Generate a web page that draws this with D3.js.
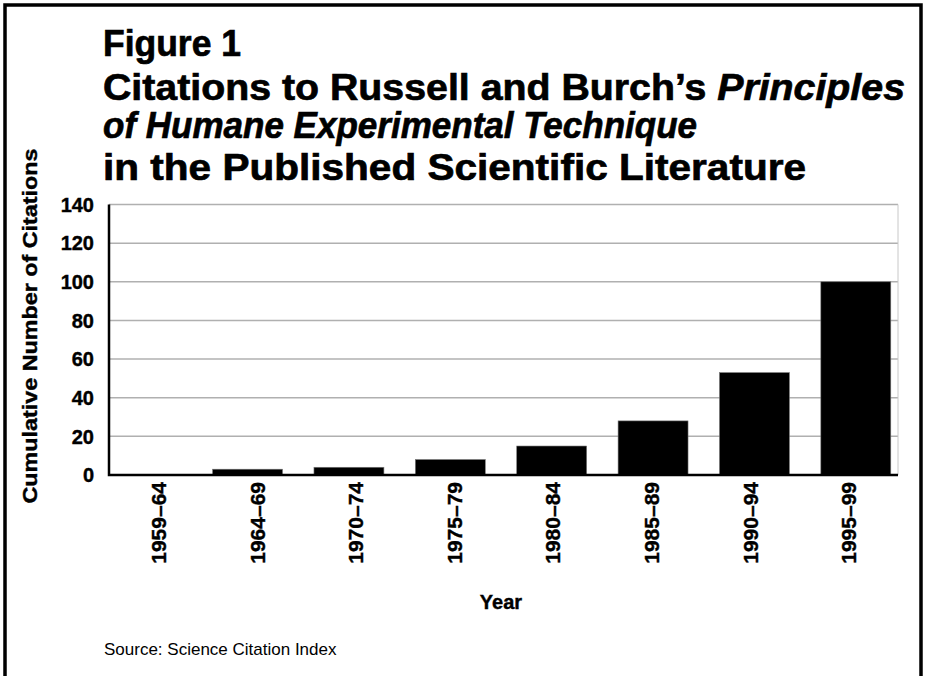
<!DOCTYPE html>
<html>
<head>
<meta charset="utf-8">
<script src="https://cdn.jsdelivr.net/npm/d3@7"></script>
<style>
  body { margin: 0; background: #fff; }
  text { font-family: "Liberation Sans", Arial, Helvetica, sans-serif; }
</style>
</head>
<body>
<div id="chart"></div>
<script>
var periods = ["1959\u201364", "1964\u201369", "1970\u201374", "1975\u201379", "1980\u201384", "1985\u201389", "1990\u201394", "1995\u201399"];
var citations = [0, 3, 4, 8, 15, 28, 53, 100];
var yTicks = [0, 20, 40, 60, 80, 100, 120, 140];
var titleLines = ["Figure 1", "Citations to Russell and Burch\u2019s |Principles", "|of Humane Experimental Technique", "in the Published Scientific Literature"];

var width = 925, height = 676;
var plot = { left: 109, right: 898, top: 204.5, bottom: 475 };

var svg = d3.select("#chart").append("svg")
  .attr("width", width)
  .attr("height", height);

// outer frame
svg.append("rect")
  .attr("x", 5).attr("y", 5)
  .attr("width", 916).attr("height", 700)
  .attr("fill", "none")
  .attr("stroke", "#000")
  .attr("stroke-width", 3.5);

// title, "|" marks where italics start
var titleBase = [56, 100, 138, 180];
var titleLen = [138, 802, 594, 703];
var title = svg.append("g");
titleLines.forEach(function(line, i) {
  var t = title.append("text")
    .attr("x", 103)
    .attr("y", titleBase[i])
    .attr("font-size", 37)
    .attr("font-weight", "bold")
    .attr("fill", "#000")
    .attr("stroke", "#000")
    .attr("stroke-width", 0.7)
    .attr("textLength", titleLen[i])
    .attr("lengthAdjust", "spacingAndGlyphs");
  var parts = line.split("|");
  t.append("tspan").text(parts[0]);
  if (parts.length > 1) {
    t.append("tspan").attr("font-style", "italic").text(parts[1]);
  }
});

var y = d3.scaleLinear()
  .domain([0, 140])
  .range([plot.bottom, plot.top]);

// bars
var xBar = d3.scaleBand()
  .domain(periods)
  .range([95.5, 906.5])
  .paddingInner(0.31)
  .paddingOuter(0.155);

// category labels
var xLab = d3.scaleBand()
  .domain(periods)
  .range([plot.left, plot.right]);

// gridlines
svg.append("g")
  .selectAll("line")
  .data(yTicks.filter(function(d) { return d > 0; }))
  .enter().append("line")
  .attr("x1", plot.left)
  .attr("x2", plot.right)
  .attr("y1", function(d) { return y(d); })
  .attr("y2", function(d) { return y(d); })
  .attr("stroke", "#b0b0b0")
  .attr("stroke-width", 1.5);

svg.append("line")
  .attr("x1", plot.right).attr("x2", plot.right)
  .attr("y1", plot.top).attr("y2", plot.bottom)
  .attr("stroke", "#c8c8c8")
  .attr("stroke-width", 1);

svg.append("g")
  .selectAll("rect")
  .data(citations)
  .enter().append("rect")
  .attr("x", function(d, i) { return xBar(periods[i]); })
  .attr("width", xBar.bandwidth())
  .attr("y", function(d) { return y(d); })
  .attr("height", function(d) { return y(0) - y(d); })
  .attr("fill", "#000")
  .attr("stroke", "#777")
  .attr("stroke-width", 0.6);

// axes lines
svg.append("path")
  .attr("d", "M" + plot.left + "," + plot.top + "V" + plot.bottom + "H" + plot.right)
  .attr("fill", "none")
  .attr("stroke", "#000")
  .attr("stroke-width", 2.5);

// y tick labels
svg.append("g")
  .selectAll("text")
  .data(yTicks)
  .enter().append("text")
  .attr("x", 94)
  .attr("y", function(d) { return y(d); })
  .attr("dy", "0.36em")
  .attr("text-anchor", "end")
  .attr("font-size", 20)
  .attr("font-weight", "bold")
  .attr("stroke", "#000")
  .attr("stroke-width", 0.4)
  .text(function(d) { return d; });

// x tick labels
svg.append("g")
  .selectAll("text")
  .data(periods)
  .enter().append("text")
  .attr("transform", function(d) {
    return "translate(" + (xLab(d) + xLab.bandwidth() / 2) + "," + 482 + ") rotate(-90)";
  })
  .attr("dy", "0.36em")
  .attr("text-anchor", "end")
  .attr("font-size", 21)
  .attr("font-weight", "bold")
  .attr("stroke", "#000")
  .attr("stroke-width", 0.4)
  .text(function(d) { return d; });

// axis titles
svg.append("text")
  .attr("transform", "translate(30,326) rotate(-90)")
  .attr("dy", "0.36em")
  .attr("text-anchor", "middle")
  .attr("font-size", 20)
  .attr("font-weight", "bold")
  .attr("stroke", "#000")
  .attr("stroke-width", 0.4)
  .attr("textLength", 355)
  .attr("lengthAdjust", "spacingAndGlyphs")
  .text("Cumulative Number of Citations");

svg.append("text")
  .attr("x", 501)
  .attr("y", 609)
  .attr("text-anchor", "middle")
  .attr("font-size", 20)
  .attr("font-weight", "bold")
  .attr("stroke", "#000")
  .attr("stroke-width", 0.4)
  .text("Year");

svg.append("text")
  .attr("x", 104)
  .attr("y", 655)
  .attr("font-size", 17)
  .text("Source: Science Citation Index");
</script>
</body>
</html>
